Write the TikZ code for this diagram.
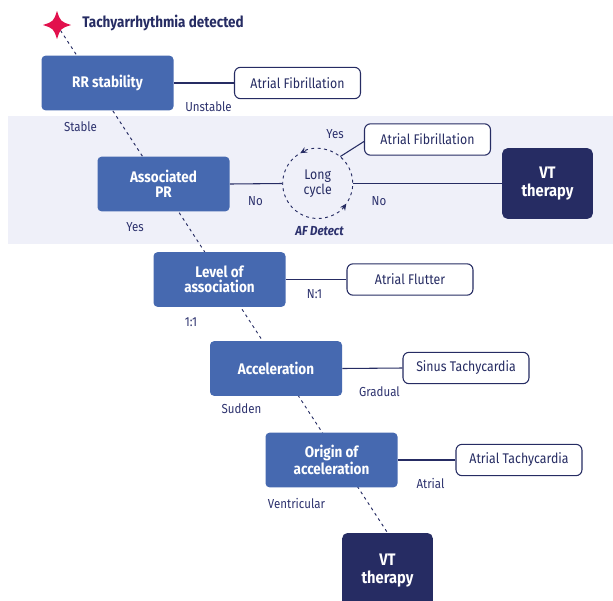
\documentclass[tikz,border=0pt]{standalone}
\usepackage{fontspec}
\setmainfont{Fira Sans}[FakeStretch=0.88]
\usetikzlibrary{arrows.meta}
\definecolor{boxblue}{RGB}{70,105,176}
\definecolor{navy}{RGB}{38,44,99}
\definecolor{lbl}{RGB}{45,50,110}
\definecolor{band}{RGB}{239,240,249}
\definecolor{starred}{RGB}{226,17,77}
\tikzset{
  qbox/.style={fill=boxblue, rounded corners=3pt, text=white, font=\bfseries\fontsize{11.5}{11.5}\selectfont,
    minimum width=99pt, minimum height=41pt, align=center, inner sep=1pt},
  vtbox/.style={fill=navy, rounded corners=4pt, text=white, font=\bfseries\fontsize{12.5}{13.5}\selectfont,
    minimum width=68pt, minimum height=53pt, align=center, inner sep=1pt},
  outbox/.style={draw=navy, line width=0.8pt, fill=white, rounded corners=4.5pt, text=navy,
    font=\fontsize{10.5}{12}\selectfont, minimum width=94.5pt, minimum height=23.5pt, inner sep=1pt},
  lab/.style={text=lbl, font=\fontsize{9.8}{11}\selectfont, inner sep=0pt},
  conn/.style={draw=navy, line width=0.8pt},
  ddash/.style={draw=navy, line width=0.7pt, dash pattern=on 2.2pt off 2.6pt},
}
\begin{document}
\begin{tikzpicture}[x=0.75pt, y=-0.75pt]
\useasboundingbox (0,0) rectangle (613,600);
% band
\fill[band] (8,116) rectangle (613,244);
% main dashed spine
\coordinate (star) at (57,25);
\node[vtbox, minimum height=57pt] (vt2) at (387.5,571) {VT\\therapy};
\draw[ddash] (star) -- (vt2.north);
% star
\fill[starred] (57,11) .. controls (60.5,21.5) .. (71,25) .. controls (60.5,28.5) .. (57,39)
  .. controls (53.5,28.5) .. (43,25) .. controls (53.5,21.5) .. (57,11);
\node[anchor=west, text=navy, font=\bfseries\fontsize{11.5}{12}\selectfont, inner sep=0pt] (title) at (82,23) {Tachyarrhythmia detected};
% question boxes
\node[qbox] (rr) at (107.5,83) {RR stability};
\node[qbox] (apr) at (163.5,184) {Associated\\PR};
\node[qbox] (loa) at (219.5,279.5) {Level of\\association};
\node[qbox] (acc) at (276,368.5) {Acceleration};
\node[qbox] (ooa) at (331.5,460) {Origin of\\acceleration};
\node[vtbox] (vt1) at (547.5,183.5) {VT\\therapy};
% outcomes
\node[outbox] (af1) at (297.5,83) {Atrial Fibrillation};
\node[outbox] (af2) at (427.5,139.5) {Atrial Fibrillation};
\node[outbox] (afl) at (410,279.5) {Atrial Flutter};
\node[outbox] (st) at (466,368) {Sinus Tachycardia};
\node[outbox] (at) at (519,460) {Atrial Tachycardia};
% long cycle
\node[circle, minimum size=52.5pt, inner sep=0pt, align=center, text=navy,
  font=\fontsize{10.5}{11.5}\selectfont] (lc) at (317.7,183.5) {Long\\cycle};
\begin{scope}[shift={(lc.center)}, x=0.75pt, y=0.75pt]
\draw[ddash, -{Stealth[length=5pt,width=4.5pt]}] (125:35) arc[start angle=125, end angle=325, radius=35];
\draw[ddash, -{Stealth[length=5pt,width=4.5pt]}] (-30:35) arc[start angle=-30, end angle=120, radius=35];
\end{scope}
% connectors
\draw[conn] (rr.east) -- (af1.west);
\draw[conn] (apr.east) -- (lc.west);
\draw[conn] (lc.east) -- (vt1.west);
\draw[conn] (lc.50) -- ([yshift=-1.5pt]af2.west);
\draw[conn] (loa.east) -- (afl.west);
\draw[conn] (acc.east) -- (st.west);
\draw[conn] (ooa.east) -- (at.west);
% labels
\node[lab] (l1) at (208.5,106.5) {Unstable};
\node[lab] (l2) at (80.5,127) {Stable};
\node[lab] (l3) at (135,227) {Yes};
\node[lab] (l4) at (255.5,201) {No};
\node[lab] (l5) at (379,201) {No};
\node[lab] (l6) at (335,134) {Yes};
\node[lab, font=\bfseries\itshape\fontsize{9.8}{11}\selectfont] (l7) at (319.5,231) {AF Detect};
\node[lab] (l8) at (314.5,294) {N:1};
\node[lab] (l9) at (191,322) {1:1};
\node[lab] (l10) at (379.5,392) {Gradual};
\node[lab] (l11) at (241.5,409) {Sudden};
\node[lab] (l12) at (430.5,483) {Atrial};
\node[lab] (l13) at (296.5,503) {Ventricular};
\end{tikzpicture}
\end{document}
